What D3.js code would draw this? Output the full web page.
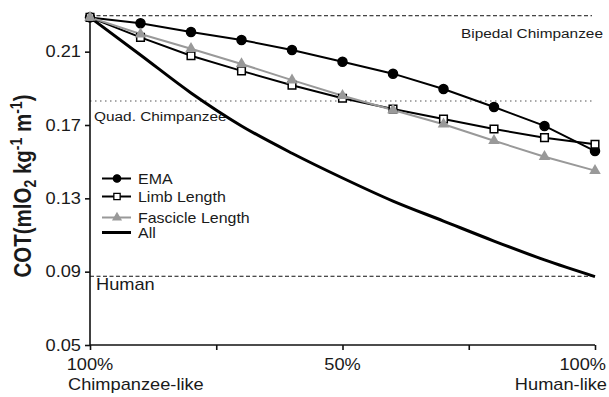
<!DOCTYPE html>
<html><head><meta charset="utf-8">
<script src="https://cdn.jsdelivr.net/npm/d3@7"></script>
<style>body{margin:0;background:#fff}svg{display:block}text{font-family:"Liberation Sans",Arial,sans-serif;fill:#1a1a1a}</style>
</head><body>
<svg id="c" width="609" height="397"></svg>
<script>
const steps = [0,1,2,3,4,5,6,7,8,9,10];
const emaValues = [0.2287,0.2255,0.2207,0.2164,0.2109,0.2045,0.1980,0.1896,0.1798,0.1695,0.1558];
const limbValues = [0.2287,0.2178,0.2078,0.1995,0.1917,0.1846,0.1787,0.1733,0.1678,0.1631,0.1595];
const fascicleValues = [0.2287,0.2196,0.2116,0.2033,0.1945,0.1860,0.1782,0.1704,0.1614,0.1527,0.1451];
const allValues = [0.2287,0.2082,0.1875,0.1695,0.1546,0.1411,0.1285,0.1176,0.1067,0.0964,0.0873];
const yTicks = [0.05,0.09,0.13,0.17,0.21];
const xTicks = [0,2.5,5,7.5,10];
const refNames = ["Bipedal Chimpanzee","Quad. Chimpanzee","Human"];
const refValues = [0.2296,0.1831,0.0875];
const legendNames = ["EMA","Limb Length","Fascicle Length","All"];

const SX = 1.14; // horizontal stretch of glyphs in reference
const svg = d3.select("#c");
const x = d3.scaleLinear().domain([0,10]).range([90,595]);
const y = d3.scaleLinear().domain([0.05,0.23]).range([345,15]);

function txt(g, s, px, py, size, anchor, weight){
  return g.append("text").attr("transform",`translate(${px},${py}) scale(${SX},1)`)
    .attr("text-anchor",anchor||"start").attr("font-size",size).attr("font-weight",weight||"normal").text(s);
}

// reference lines
const refStyle = [{dash:"4,2.5",x2:592,col:"#111",w:1},{dash:"1.5,3.5",x2:592,col:"#555",w:1.2},{dash:"4,2.5",x2:595,col:"#111",w:1}];
refValues.forEach((v,i)=>{
  svg.append("line").attr("x1",x(0)).attr("x2",refStyle[i].x2).attr("y1",y(v)).attr("y2",y(v))
    .attr("stroke",refStyle[i].col).attr("stroke-width",refStyle[i].w).attr("stroke-dasharray",refStyle[i].dash);
});
txt(svg, refNames[0], 461, 37.5, 13.5);
txt(svg, refNames[1], 94, 121, 13.5);
txt(svg, refNames[2], 96, 290, 16);

// axes
const yAxis = svg.append("g").attr("transform","translate(90,0)")
  .call(d3.axisLeft(y).tickValues(yTicks).tickSize(5).tickFormat(d3.format(".2f")).tickPadding(4));
yAxis.select(".domain").attr("stroke","#111").attr("stroke-width",1.6).attr("d","M0,345V15");
yAxis.selectAll(".tick line").attr("stroke","#111").attr("stroke-width",1.6);
yAxis.selectAll(".tick text").remove();
yTicks.forEach(t=>{ txt(svg, d3.format(".2f")(t), 81, y(t)+5.8, 16, "end"); });

const xAxis = svg.append("g").attr("transform","translate(0,345)")
  .call(d3.axisBottom(x).tickValues(xTicks).tickSize(5).tickFormat(""));
xAxis.select(".domain").attr("stroke","#111").attr("stroke-width",1.6).attr("d","M90,0H595");
xAxis.selectAll(".tick line").attr("stroke","#111").attr("stroke-width",1.6);

txt(svg, "100%", x(0), 370, 16, "middle");
txt(svg, "Chimpanzee-like", 68, 390, 16);
txt(svg, "50%", x(5), 370, 16, "middle");
txt(svg, "100%", 606, 370, 16, "end");
txt(svg, "Human-like", 607, 390, 16, "end");

// y title
const t = svg.append("text").attr("transform",`translate(31,186) scale(${SX},1) rotate(-90)`)
  .attr("text-anchor","middle").attr("font-size",20.5).attr("font-weight","bold");
t.append("tspan").text("COT(mlO");
t.append("tspan").attr("font-size",14).attr("dy",4).text("2");
t.append("tspan").attr("dy",-4).text(" kg");
t.append("tspan").attr("font-size",14).attr("dy",-8).text("-1");
t.append("tspan").attr("dy",8).text(" m");
t.append("tspan").attr("font-size",14).attr("dy",-8).text("-1");
t.append("tspan").attr("dy",8).text(")");

// lines
const lineL = d3.line().x((d,i)=>x(steps[i])).y(d=>y(d));
const lineC = d3.line().x((d,i)=>x(steps[i])).y(d=>y(d)).curve(d3.curveMonotoneX);
svg.append("path").attr("d",lineC(allValues)).attr("fill","none").attr("stroke","#000").attr("stroke-width",3);
svg.append("path").attr("d",lineL(emaValues)).attr("fill","none").attr("stroke","#000").attr("stroke-width",2);
svg.append("path").attr("d",lineL(limbValues)).attr("fill","none").attr("stroke","#000").attr("stroke-width",2);
svg.append("path").attr("d",lineL(fascicleValues)).attr("fill","none").attr("stroke","#999").attr("stroke-width",2);

const circ = d3.symbol().type(d3.symbolCircle).size(64);
const sq = d3.symbol().type(d3.symbolSquare).size(58);
const tri = d3.symbol().type(d3.symbolTriangle).size(58);
function markers(vals, sym, fill, stroke){
  svg.append("g").selectAll("path").data(vals).join("path")
    .attr("transform",(d,i)=>`translate(${x(steps[i])},${y(d)})`)
    .attr("d",sym).attr("fill",fill).attr("stroke",stroke).attr("stroke-width",1.5);
}
markers(emaValues, circ, "#000", "#000");
markers(limbValues, sq, "#fff", "#000");
markers(fascicleValues, tri, "#999", "none");

// legend
const lc = d3.symbol().type(d3.symbolCircle).size(42);
const ls = d3.symbol().type(d3.symbolSquare).size(40);
const lt = d3.symbol().type(d3.symbolTriangle).size(44);
const legRows = [178.5,196.5,217.5,232.5];
const legSyms = [[lc,"#000","#000"],[ls,"#fff","#000"],[lt,"#999","none"],[null]];
const legCols = ["#000","#000","#999","#000"];
legendNames.forEach((n,i)=>{
  const ly = legRows[i];
  svg.append("line").attr("x1",102).attr("x2",131).attr("y1",ly).attr("y2",ly)
    .attr("stroke",legCols[i]).attr("stroke-width",i===3?3:2);
  if(legSyms[i][0]) svg.append("path").attr("transform",`translate(117,${ly})`)
    .attr("d",legSyms[i][0]).attr("fill",legSyms[i][1]).attr("stroke",legSyms[i][2]).attr("stroke-width",1.3);
  txt(svg, n, 138, ly+5, 14);
});
</script>
</body></html>
